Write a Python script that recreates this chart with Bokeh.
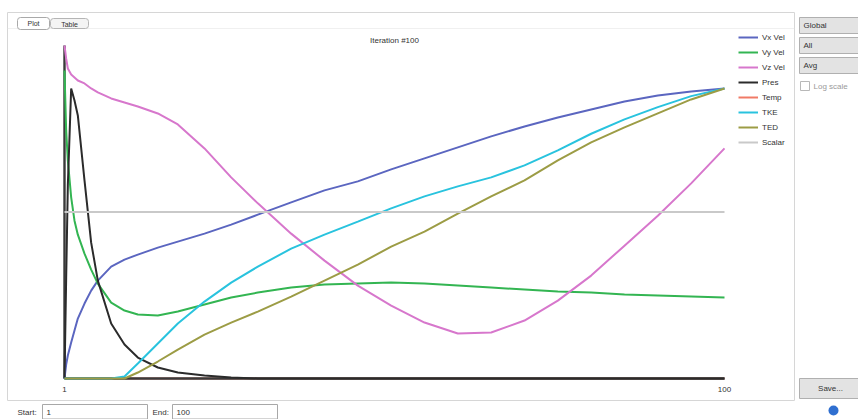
from bokeh.plotting import figure
from bokeh.models import (Range1d, Legend, LegendItem, Label, BoxAnnotation)
from bokeh.embed import file_html
from bokeh.resources import INLINE

# ---------------- data ----------------
iterations = [1, 1.25, 1.5, 2, 2.5, 3, 4, 5, 6, 8, 10, 12, 15, 18, 22, 26, 30,
              35, 40, 45, 50, 55, 60, 65, 70, 75, 80, 85, 90, 95, 100]

vx_vel = [0.000, 0.042, 0.069, 0.108, 0.144, 0.180, 0.225, 0.264, 0.294, 0.336,
          0.357, 0.372, 0.393, 0.411, 0.435, 0.462, 0.492, 0.529, 0.565, 0.592,
          0.628, 0.661, 0.694, 0.727, 0.757, 0.784, 0.808, 0.832, 0.850, 0.862,
          0.871]
vy_vel = [0.925, 0.745, 0.655, 0.544, 0.474, 0.432, 0.375, 0.327, 0.285, 0.228,
          0.204, 0.192, 0.189, 0.201, 0.222, 0.243, 0.258, 0.273, 0.282, 0.285,
          0.288, 0.285, 0.279, 0.273, 0.267, 0.261, 0.258, 0.252, 0.249, 0.246,
          0.243]
vz_vel = [1.000, 0.961, 0.931, 0.913, 0.904, 0.895, 0.886, 0.871, 0.859, 0.841,
          0.829, 0.817, 0.796, 0.763, 0.691, 0.604, 0.526, 0.435, 0.354, 0.279,
          0.219, 0.168, 0.135, 0.138, 0.174, 0.234, 0.309, 0.399, 0.489, 0.586,
          0.691]
pres = [0.000, 0.300, 0.580, 0.871, 0.835, 0.790, 0.595, 0.408, 0.294, 0.165,
        0.102, 0.063, 0.033, 0.018, 0.009, 0.003, 0.000, 0.000, 0.000, 0.000,
        0.000, 0.000, 0.000, 0.000, 0.000, 0.000, 0.000, 0.000, 0.000, 0.000,
        0.000]
temp = [0.0, 0.0, 0.0, 0.0, 0.0, 0.0, 0.0, 0.0, 0.0, 0.0, 0.0, 0.0, 0.0,
        0.0, 0.0, 0.0, 0.0, 0.0, 0.0, 0.0, 0.0, 0.0, 0.0, 0.0, 0.0, 0.0,
        0.0, 0.0, 0.0, 0.0, 0.0]
tke = [0.000, 0.000, 0.000, 0.000, 0.000, 0.000, 0.000, 0.000, 0.000, 0.000,
       0.006, 0.045, 0.105, 0.165, 0.231, 0.288, 0.336, 0.390, 0.432, 0.471,
       0.511, 0.547, 0.577, 0.604, 0.640, 0.685, 0.735, 0.778, 0.815, 0.848,
       0.871]
ted = [0.000, 0.000, 0.000, 0.000, 0.000, 0.000, 0.000, 0.000, 0.000, 0.000,
       0.000, 0.018, 0.051, 0.087, 0.132, 0.168, 0.201, 0.246, 0.294, 0.342,
       0.396, 0.441, 0.495, 0.547, 0.595, 0.655, 0.709, 0.754, 0.796, 0.838,
       0.871]
scalar = [0.5, 0.5, 0.5, 0.5, 0.5, 0.5, 0.5, 0.5, 0.5, 0.5, 0.5, 0.5, 0.5,
          0.5, 0.5, 0.5, 0.5, 0.5, 0.5, 0.5, 0.5, 0.5, 0.5, 0.5, 0.5, 0.5,
          0.5, 0.5, 0.5, 0.5, 0.5]

series_names = ["Vx Vel", "Vy Vel", "Vz Vel", "Pres", "Temp", "TKE", "TED", "Scalar"]
series_values = [vx_vel, vy_vel, vz_vel, pres, temp, tke, ted, scalar]
series_colors = ["#5b66c0", "#33b552", "#d777cc", "#2b2b2b", "#f07a66",
                 "#29c3de", "#9c9c45", "#c9c9c9"]
x_ticks = [1, 100]
tick_labels = ["1", "100"]
title_text = "Iteration #100"

FONT = "Liberation Sans"
W, H = 858, 419

# plot area placement (pixels): x=1 -> 64, x=100 -> 724, y=0 -> 378, y=1 -> 45
X0_PX, X1_PX, Y0_PX, Y1_PX = 64, 724, 378, 45
sx = (X1_PX - X0_PX) / (x_ticks[-1] - x_ticks[0])
sy = (Y0_PX - Y1_PX) / 1.0
x_range = Range1d(x_ticks[0] - X0_PX / sx, x_ticks[0] + (W - X0_PX) / sx)
y_range = Range1d(-(H - Y0_PX) / sy, Y0_PX / sy)

p = figure(width=W, height=H, output_backend="svg", toolbar_location=None,
           x_range=x_range, y_range=y_range,
           min_border_left=0, min_border_right=0, min_border_top=0,
           min_border_bottom=0)
p.outline_line_color = None
p.grid.visible = False
p.xaxis.visible = False
p.yaxis.visible = False
p.background_fill_color = "white"
p.border_fill_color = "white"

renderers = {}
# Temp lies on the zero line, hidden beneath the axis
renderers["Temp"] = p.line(iterations, temp, line_color=series_colors[4],
                           line_width=2)

# axis lines spanning the data extent
all_vals = [v for vals in series_values for v in vals]
p.segment(x0=[iterations[0]], y0=[0], x1=[iterations[-1]], y1=[0],
          line_color="#3a3a3a", line_width=2.4)
p.segment(x0=[iterations[0]], y0=[0], x1=[iterations[0]], y1=[max(all_vals)],
          line_color="#3a3a3a", line_width=2.4)
p.text(x=x_ticks, y=[0] * len(x_ticks), text=tick_labels, y_offset=11,
       text_align="center", text_baseline="middle", text_font_size="8px",
       text_font={"value": FONT}, text_color="#333333")

for name, vals, col in zip(series_names, series_values, series_colors):
    if name == "Temp":
        continue
    renderers[name] = p.line(iterations, vals, line_color=col, line_width=2)

legend = Legend(items=[LegendItem(label=n, renderers=[renderers[n]])
                       for n in series_names],
                location=(738, 271), orientation="vertical",
                label_text_font_size="8px", label_text_font=FONT,
                label_text_color="#333333", label_height=12, glyph_height=12,
                glyph_width=20, label_standoff=4, spacing=3, padding=0,
                margin=0, border_line_color=None, background_fill_alpha=0)
p.add_layout(legend)


# ---------------- window decorations ----------------
def box(l, t, r, b, fill=None, line="#cfcfcf", radius=0):
    bx = BoxAnnotation(left=l, right=r, top=t, bottom=b,
                       left_units="canvas", right_units="canvas",
                       top_units="canvas", bottom_units="canvas",
                       fill_color=fill if fill else "white",
                       fill_alpha=1.0 if fill else 0.0,
                       line_color=line if line else "white",
                       line_alpha=1.0 if line else 0.0,
                       line_width=1, border_radius=radius, level="annotation")
    p.add_layout(bx)


def text(x, y, s, size="8px", color="#333333", align="left"):
    p.add_layout(Label(x=x, y=y, x_units="canvas", y_units="canvas", text=s,
                       text_font=FONT, text_font_size=size, text_color=color,
                       text_align=align, text_baseline="middle",
                       level="overlay"))


# outer panel and tab strip
box(7, 12, 794, 400, fill=None, line="#d6d6d6")
box(7, 28, 794, 28.6, fill="#e2e2e2", line=None)
box(17, 17, 49, 29, fill="white", line="#a9a9a9", radius=3)
box(50, 18, 88, 28, fill="#f4f4f4", line="#b5b5b5", radius=3)
text(33, 23, "Plot", size="7px", align="center")
text(69, 23.5, "Table", size="7px", align="center")

# chart title
text(394, 40, title_text, align="center")

# right-side controls
for top, lab in [(17, "Global"), (37, "All"), (57, "Avg")]:
    box(799, top, 858, top + 16, fill="#e3e3e3", line="#b0b0b0")
    text(803, top + 8, lab)
box(800, 81, 809, 90, fill="white", line="#b8b8b8")
text(813, 85.5, "Log scale", color="#9a9a9a")

box(799, 378, 858, 398, fill="#e3e3e3", line="#b0b0b0")
text(830, 388, "Save...", align="center")
box(828, 405, 838, 415, fill="#2f6fd0", line=None, radius=5)

# bottom range inputs
text(17, 412, "Start:")
box(42, 404, 147, 418.5, fill="white", line="#a8a8a8")
text(46, 412, str(x_ticks[0]))
text(152, 412, "End:")
box(172, 404, 277, 418.5, fill="white", line="#a8a8a8")
text(176, 412, str(x_ticks[-1]))

open("out.html", "w").write(file_html(p, INLINE))
